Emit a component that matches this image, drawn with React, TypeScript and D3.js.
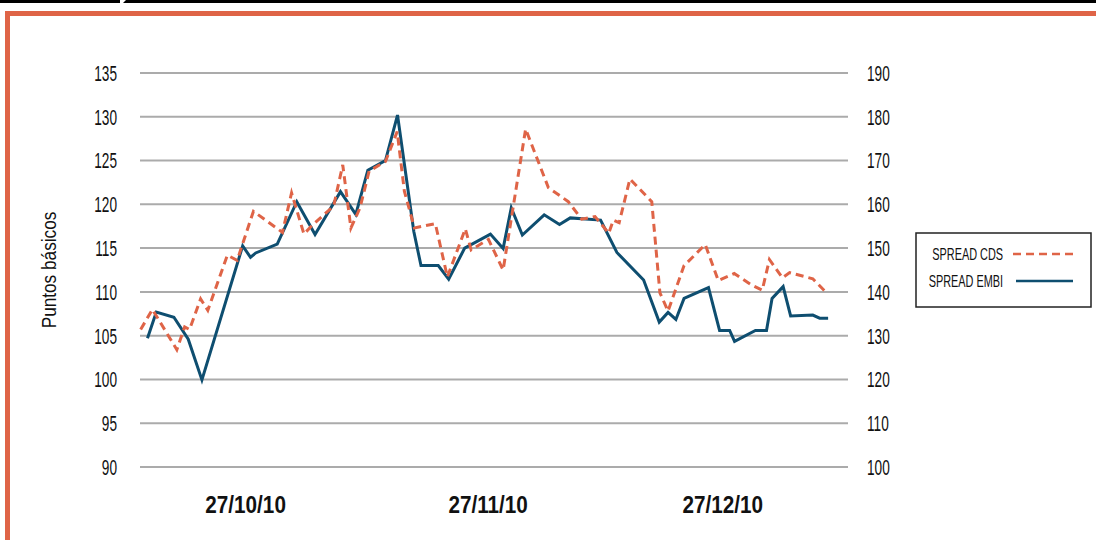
import React, { useRef, useEffect } from "react";
import * as d3 from "d3";

// SPREAD CDS (eje izquierdo)
const cdsDates = [
  "2010-10-13 14", "2010-10-15 02", "2010-10-18 05", "2010-10-19 05", "2010-10-19 20",
  "2010-10-21 06", "2010-10-22 04", "2010-10-24 16", "2010-10-25 22", "2010-10-28 00",
  "2010-10-31 17", "2010-11-01 21", "2010-11-03 11", "2010-11-04 12", "2010-11-07 06",
  "2010-11-08 10", "2010-11-09 11", "2010-11-10 15", "2010-11-11 19", "2010-11-13 21",
  "2010-11-15 09", "2010-11-16 07", "2010-11-17 14", "2010-11-20 06", "2010-11-21 19",
  "2010-11-24 02", "2010-11-24 20", "2010-11-27 01", "2010-11-28 22", "2010-12-01 19",
  "2010-12-04 17", "2010-12-06 00", "2010-12-07 06", "2010-12-08 23", "2010-12-10 16",
  "2010-12-12 10", "2010-12-13 00", "2010-12-13 18", "2010-12-15 03", "2010-12-17 22",
  "2010-12-18 23", "2010-12-20 00", "2010-12-22 01", "2010-12-24 18", "2010-12-26 10",
  "2010-12-28 11", "2010-12-30 16", "2011-01-01 01", "2011-01-01 23", "2011-01-03 15",
  "2011-01-04 13", "2011-01-07 12", "2011-01-09 06",
];
const cdsValues = [
  105.7, 108.0, 103.4, 106.0, 105.7, 109.2, 107.9, 114.2, 113.6, 119.2,
  116.8, 121.3, 116.6, 117.6, 119.8, 124.5, 117.3, 119.6, 123.8, 124.9,
  128.3, 121.5, 117.3, 117.8, 111.7, 117.2, 114.8, 116.0, 112.5, 128.6,
  121.9, 121.1, 120.3, 118.3, 118.6, 116.7, 118.2, 117.9, 122.9, 120.3,
  109.9, 107.8, 113.0, 115.4, 111.3, 112.1, 110.8, 110.2, 113.7, 111.6,
  112.2, 111.5, 109.9,
];

// SPREAD EMBI (eje derecho)
const embiDates = [
  "2010-10-14 11", "2010-10-15 14", "2010-10-17 20", "2010-10-19 16", "2010-10-21 10",
  "2010-10-26 15", "2010-10-27 15", "2010-10-28 07", "2010-10-31 01", "2010-11-02 13",
  "2010-11-04 21", "2010-11-08 03", "2010-11-10 02", "2010-11-11 15", "2010-11-13 21",
  "2010-11-15 10", "2010-11-17 12", "2010-11-18 10", "2010-11-20 15", "2010-11-21 23",
  "2010-11-24 00", "2010-11-27 07", "2010-11-28 22", "2010-11-29 23", "2010-12-01 09",
  "2010-12-04 04", "2010-12-06 03", "2010-12-07 12", "2010-12-11 09", "2010-12-13 11",
  "2010-12-16 21", "2010-12-18 21", "2010-12-20 00", "2010-12-21 00", "2010-12-22 01",
  "2010-12-25 04", "2010-12-26 14", "2010-12-27 21", "2010-12-28 12", "2010-12-31 04",
  "2011-01-01 14", "2011-01-02 07", "2011-01-03 17", "2011-01-04 16", "2011-01-07 12",
  "2011-01-08 09", "2011-01-09 11",
];
const embiValues = [
  129.4, 135.4, 134.2, 129.2, 119.9, 150.5, 147.9, 148.9, 150.9, 160.6,
  153.1, 162.9, 157.7, 167.8, 170.0, 180.4, 153.8, 146.0, 146.0, 142.9,
  150.0, 153.2, 149.9, 159.2, 153.0, 157.6, 155.4, 156.9, 156.4, 149.0,
  142.7, 133.1, 135.3, 133.7, 138.5, 141.0, 131.2, 131.2, 128.7, 131.2,
  131.2, 138.5, 141.2, 134.5, 134.7, 134.0, 134.0,
];

const leftTicks = [90, 95, 100, 105, 110, 115, 120, 125, 130, 135];
const rightTicks = [100, 110, 120, 130, 140, 150, 160, 170, 180, 190];
const xTickDates = ["2010-10-27", "2010-11-27", "2010-12-27"];
const legendLabels = ["SPREAD CDS", "SPREAD EMBI"];

const W = 1096;
const H = 540;
const ORANGE = "#DF6447";
const BLUE = "#0E4E70";
const FONT = "'Liberation Sans', Arial, sans-serif";

const plot = { left: 140, right: 848, top: 73, bottom: 467 };

const App = () => {
  const ref = useRef(null);

  useEffect(() => {
    document.body.style.margin = "0";
    const svg = d3.select(ref.current);
    svg.selectAll("*").remove();

    const parseHour = d3.utcParse("%Y-%m-%d %H");
    const parseDay = d3.utcParse("%Y-%m-%d");

    const x = d3
      .scaleUtc()
      .domain([parseHour("2010-10-13 12"), parseHour("2011-01-12 00")])
      .range([plot.left, plot.right]);
    const yL = d3.scaleLinear().domain([90, 135]).range([plot.bottom, plot.top]);
    const yR = d3.scaleLinear().domain([100, 190]).range([plot.bottom, plot.top]);

    // condensed-looking text: squeeze horizontally around the anchor
    const label = (g: any, tx: number, ty: number, sx: number, size: number, anchor: string, txt: string, weight = "normal", rot = 0) =>
      g
        .append("text")
        .attr("transform", `translate(${tx},${ty}) rotate(${rot}) scale(${sx},1)`)
        .attr("dy", "0.36em")
        .attr("text-anchor", anchor)
        .attr("font-family", FONT)
        .attr("font-size", size)
        .attr("font-weight", weight)
        .attr("fill", "#111")
        .text(txt);

    // frame
    svg.append("rect").attr("x", 0).attr("y", 0).attr("width", 120).attr("height", 3).attr("fill", "#000");
    svg
      .append("polygon")
      .attr("points", `123,3 126,0 ${W},0 ${W},3`)
      .attr("fill", "#000");
    svg.append("rect").attr("x", 5).attr("y", 11).attr("width", W - 5).attr("height", 5).attr("fill", ORANGE);
    svg.append("rect").attr("x", 5).attr("y", 11).attr("width", 5).attr("height", H - 11).attr("fill", ORANGE);

    // gridlines
    svg
      .append("g")
      .selectAll("line")
      .data(leftTicks)
      .join("line")
      .attr("x1", plot.left)
      .attr("x2", plot.right)
      .attr("y1", (d) => yL(d))
      .attr("y2", (d) => yL(d))
      .attr("stroke", "#ABABAB")
      .attr("stroke-width", 2);

    const axes = svg.append("g");
    leftTicks.forEach((d) => label(axes, 117, yL(d), 0.62, 22, "end", String(d)));
    rightTicks.forEach((d) => label(axes, 867, yR(d), 0.62, 22, "start", String(d)));

    const fmt = d3.utcFormat("%d/%m/%y");
    xTickDates.forEach((d) => {
      const t = parseDay(d);
      label(axes, x(t), 505, 0.9, 23, "middle", fmt(t), "bold");
    });

    label(svg, 48, (plot.top + plot.bottom) / 2, 0.82, 21, "middle", "Puntos básicos", "normal", -90);

    // lines
    const cds = cdsDates.map((d, i) => ({ date: parseHour(d), value: cdsValues[i] }));
    const embi = embiDates.map((d, i) => ({ date: parseHour(d), value: embiValues[i] }));

    const lineL = d3
      .line<any>()
      .x((d) => x(d.date))
      .y((d) => yL(d.value));
    const lineR = d3
      .line<any>()
      .x((d) => x(d.date))
      .y((d) => yR(d.value));

    svg
      .append("path")
      .datum(embi)
      .attr("d", lineR)
      .attr("fill", "none")
      .attr("stroke", BLUE)
      .attr("stroke-width", 3);

    svg
      .append("path")
      .datum(cds)
      .attr("d", lineL)
      .attr("fill", "none")
      .attr("stroke", ORANGE)
      .attr("stroke-width", 3)
      .attr("stroke-dasharray", "8,5");

    // legend
    const lg = svg.append("g");
    lg.append("rect")
      .attr("x", 916)
      .attr("y", 233)
      .attr("width", 175)
      .attr("height", 74)
      .attr("fill", "#fff")
      .attr("stroke", "#222")
      .attr("stroke-width", 1.5);
    legendLabels.forEach((l, i) => {
      const ly = 254 + i * 27;
      label(lg, 1003, ly, 0.64, 17, "end", l);
      lg.append("line")
        .attr("x1", i === 0 ? 1013 : 1016)
        .attr("x2", 1073)
        .attr("y1", ly)
        .attr("y2", ly)
        .attr("stroke", i === 0 ? ORANGE : BLUE)
        .attr("stroke-width", 2.5)
        .attr("stroke-dasharray", i === 0 ? "8,5" : null);
    });

    return () => undefined;
  }, []);

  return (
    <svg
      ref={ref}
      width={W}
      height={H}
      style={{ position: "absolute", left: 0, top: 0, background: "#fff" }}
    ></svg>
  );
};

export default App;
